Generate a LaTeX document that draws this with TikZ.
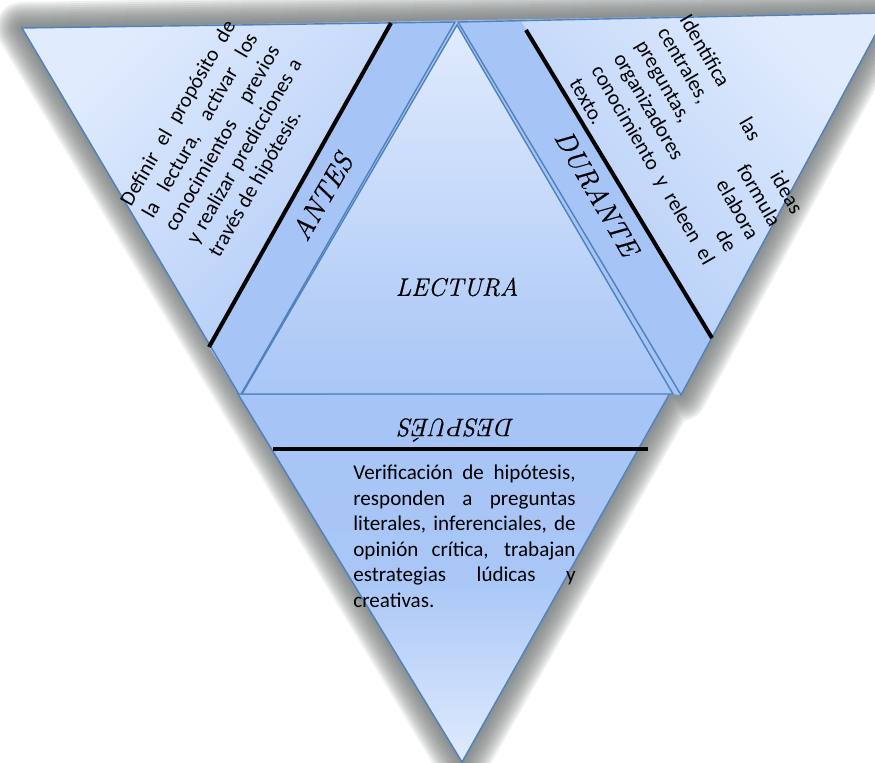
\documentclass[tikz,border=0pt]{standalone}
\usepackage{fontspec}
\newfontfamily\calib{Carlito}
\newfontfamily\titlefont[FakeBold=0.6]{Latin Modern Roman}
\usetikzlibrary{calc}
\definecolor{edgeblue}{HTML}{4F81BD}
\definecolor{stripblue}{HTML}{A6C4F5}
\definecolor{lightblue}{HTML}{E0EBFD}
\definecolor{midblue}{HTML}{A9C6F6}
\definecolor{shadowgray}{HTML}{6F7676}
\newcommand{\jpar}{\hyphenpenalty=10000 \tolerance=9999 \hbadness=10000 }
\begin{document}
\begin{tikzpicture}[x=0.02cm,y=-0.02cm,
  piece/.style={draw=edgeblue, line width=0.8pt, line join=miter},
  sepline/.style={line width=2.3pt, black},
  bodytext/.style={font=\calib\fontsize{12}{14.5}\selectfont,
    align=justify, inner sep=0pt, text=black},
  title/.style={font=\titlefont\fontsize{16}{18}\selectfont\itshape, inner sep=0pt},
  smalltitle/.style={font=\titlefont\fontsize{14.4}{16}\selectfont\itshape, inner sep=0pt},
]
\useasboundingbox (0,0) rectangle (875,763);
\clip (0,0) rectangle (875,763);
\fill[white] (0,0) rectangle (875,763);

% outer glow
\coordinate (hTL) at (22,28);
\coordinate (hTR) at (887,13);
\coordinate (hR) at (681,395);
\coordinate (hR2) at (670,394);
\coordinate (hB) at (462,762);
\foreach \w in {4,8,...,52} {
  \pgfmathsetmacro\lw{\w*0.567}
  \draw[shadowgray, opacity=0.11, line width=\lw pt, line join=round]
    (hTL) -- (hTR) -- (hR) -- (hR2) -- (hB) -- cycle;
}
\fill[stripblue] (hTL) -- (hTR) -- (hR) -- (hR2) -- (hB) -- cycle;

% left piece (ANTES)
\shade[top color=lightblue, bottom color=midblue, shading angle=45]
  (22,28) -- (455,22) -- (240,396) -- cycle;
\fill[stripblue] (391,23) -- (455,22) -- (240,396) -- (209,347) -- cycle;
\draw[piece] (22,28) -- (455,22) -- (240,396) -- cycle;

% right piece (DURANTE)
\shade[top color=lightblue, bottom color=midblue, shading angle=-45]
  (458,22) -- (887,13) -- (681,395) -- cycle;
\fill[stripblue] (458,22) -- (521,21) -- (712,338) -- (681,395) -- cycle;
\draw[piece] (458,22) -- (887,13) -- (681,395) -- cycle;

% bottom piece (DESPUES)
\shade[top color=stripblue, bottom color=lightblue, middle color=midblue]
  (238,394) -- (670,393) -- (462,762) -- cycle;
\fill[stripblue] (238,394) -- (670,393) -- (637,449) -- (274,449) -- cycle;
\draw[piece] (238,394) -- (670,393) -- (462,762) -- cycle;

% central triangle (LECTURA)
\shade[top color=lightblue, bottom color=midblue]
  (457,25) -- (673,394) -- (242,394) -- cycle;
\draw[piece] (457,25) -- (673,394) -- (242,394) -- cycle;

% separator lines
\coordinate (aL1) at (209,347);
\coordinate (aL2) at (391,23);
\coordinate (dL1) at (526,30);
\coordinate (dL2) at (712,338);
\coordinate (pL1) at (273,449);
\coordinate (pL2) at (648,449);
\draw[sepline] (aL1) -- (aL2);
\draw[sepline] (dL1) -- (dL2);
\draw[sepline] (pL1) -- (pL2);

% texts
\node[bodytext, text width=119.5pt, rotate=60, anchor=north west] (antestext) at (118,200)
  {\jpar Definir el propósito de\linebreak la lectura, activar los\linebreak conocimientos previos\linebreak y realizar predicciones a\linebreak través de hipótesis.};
\node[bodytext, text width=128.5pt, rotate=-60, anchor=north west] (durantetext) at (692,12)
  {\jpar Identifica las ideas\linebreak centrales, formula\linebreak preguntas, elabora\linebreak organizadores de\linebreak conocimiento y releen el\linebreak texto.};
\node[bodytext, text width=126.5pt, anchor=north west] (despuestext) at (353,465)
  {\jpar Verificación de hipótesis,\linebreak responden a preguntas\linebreak literales, inferenciales, de\linebreak opinión crítica, trabajan\linebreak estrategias lúdicas y\linebreak creativas.};

% titles
\node[title, rotate=60] (antes) at (322,197) {ANTES};
\node[title, rotate=-60] (durante) at (597,193) {DURANTE};
\node[smalltitle] (lectura) at (457,287) {LECTURA};
\node[smalltitle, rotate=180] (despues) at (457,430) {DESPUÉS};
\end{tikzpicture}
\end{document}
